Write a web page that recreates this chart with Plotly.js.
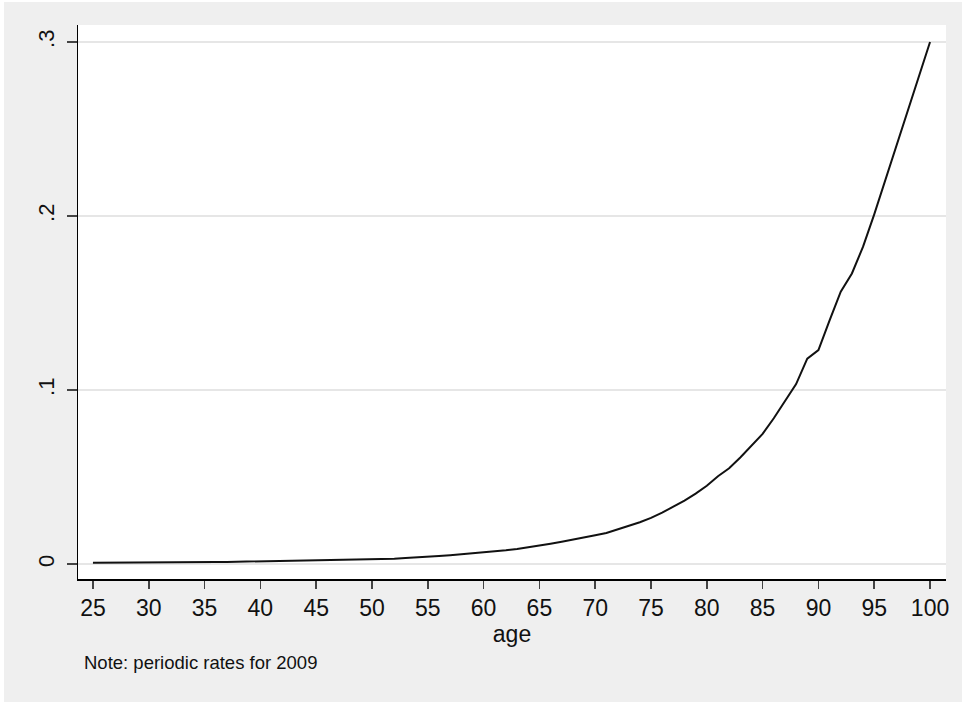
<!DOCTYPE html>
<html>
<head>
<meta charset="utf-8">
<script src="https://cdn.plot.ly/plotly-3.0.1.min.js"></script>
<style>
html,body{margin:0;padding:0;background:#ffffff;}
#chart{position:absolute;left:4px;top:2px;width:958px;height:700px;}
</style>
</head>
<body>
<div id="chart"></div>
<script>
const ages = [25,26,27,28,29,30,31,32,33,34,35,36,37,38,39,40,41,42,43,44,45,46,47,48,49,50,
  51,52,53,54,55,56,57,58,59,60,61,62,63,64,65,66,67,68,69,70,71,72,73,74,75,76,77,78,79,80,
  81,82,83,84,85,86,87,88,89,90,91,92,93,94,95,96,97,98,99,100];
const mortalityRate = [0.0007,0.0007,0.0007,0.0008,0.0008,0.0008,0.0009,0.0009,0.0010,0.0010,
  0.0011,0.0011,0.0012,0.0013,0.0014,0.0015,0.0016,0.0017,0.0018,0.0019,
  0.0020,0.0021,0.0022,0.0023,0.0024,0.0026,0.0029,0.0031,0.0034,0.0037,
  0.0041,0.0046,0.0051,0.0056,0.0061,0.0066,0.0072,0.0079,0.0087,0.0096,
  0.0106,0.0117,0.0128,0.0139,0.0151,0.0165,0.0178,0.0199,0.0218,0.0240,
  0.0265,0.0295,0.0330,0.0365,0.0405,0.0450,0.0505,0.0550,0.0612,0.0680,
  0.0748,0.0838,0.0935,0.1034,0.1180,0.1230,0.1400,0.1565,0.1670,0.1824,
  0.2010,0.2210,0.2405,0.2600,0.2800,0.3000];
const xTicks = [25,30,35,40,45,50,55,60,65,70,75,80,85,90,95,100];
const yTicks = [0,0.1,0.2,0.3];
const yTickLabels = ['0','.1','.2','.3'];
const xTitle = 'age';
const noteText = 'Note: periodic rates for 2009';

const font = 'Liberation Sans, Arial, Helvetica, sans-serif';

const trace = {
  x: ages, y: mortalityRate, type: 'scatter', mode: 'lines',
  line: {color: '#111111', width: 2}, hoverinfo: 'skip'
};

const layout = {
  width: 958, height: 700,
  paper_bgcolor: '#efefef', plot_bgcolor: '#ffffff',
  margin: {l: 74, r: 16, t: 23, b: 123},
  showlegend: false,
  font: {family: font, color: '#111111'},
  xaxis: {
    range: [23.66, 101.43], tickvals: xTicks, ticktext: xTicks.map(String),
    showgrid: false, zeroline: false,
    showline: true, linecolor: '#000000', linewidth: 1.5,
    ticks: 'outside', ticklen: 8, tickwidth: 1.5, tickcolor: '#444444',
    tickfont: {size: 23, family: font, color: '#111111'},
    title: {text: xTitle, font: {size: 23, family: font, color: '#111111'}, standoff: 6}
  },
  yaxis: {
    range: [-0.0086, 0.3098], tickvals: yTicks, ticktext: yTickLabels,
    showgrid: true, gridcolor: '#e6e6e6', gridwidth: 2, zeroline: false,
    showline: true, linecolor: '#000000', linewidth: 1.5,
    ticks: 'outside', ticklen: 10, tickwidth: 1.5, tickcolor: '#444444',
    tickangle: -90, ticklabelstandoff: 4,
    tickfont: {size: 22, family: font, color: '#111111'}
  },
  annotations: [{
    text: noteText, xref: 'paper', yref: 'paper', x: 0.005, y: -0.1516,
    xanchor: 'left', yanchor: 'middle', showarrow: false,
    font: {size: 18.5, family: font, color: '#111111'}
  }]
};

Plotly.newPlot('chart', [trace], layout, {displayModeBar: false, staticPlot: true});
</script>
</body>
</html>
